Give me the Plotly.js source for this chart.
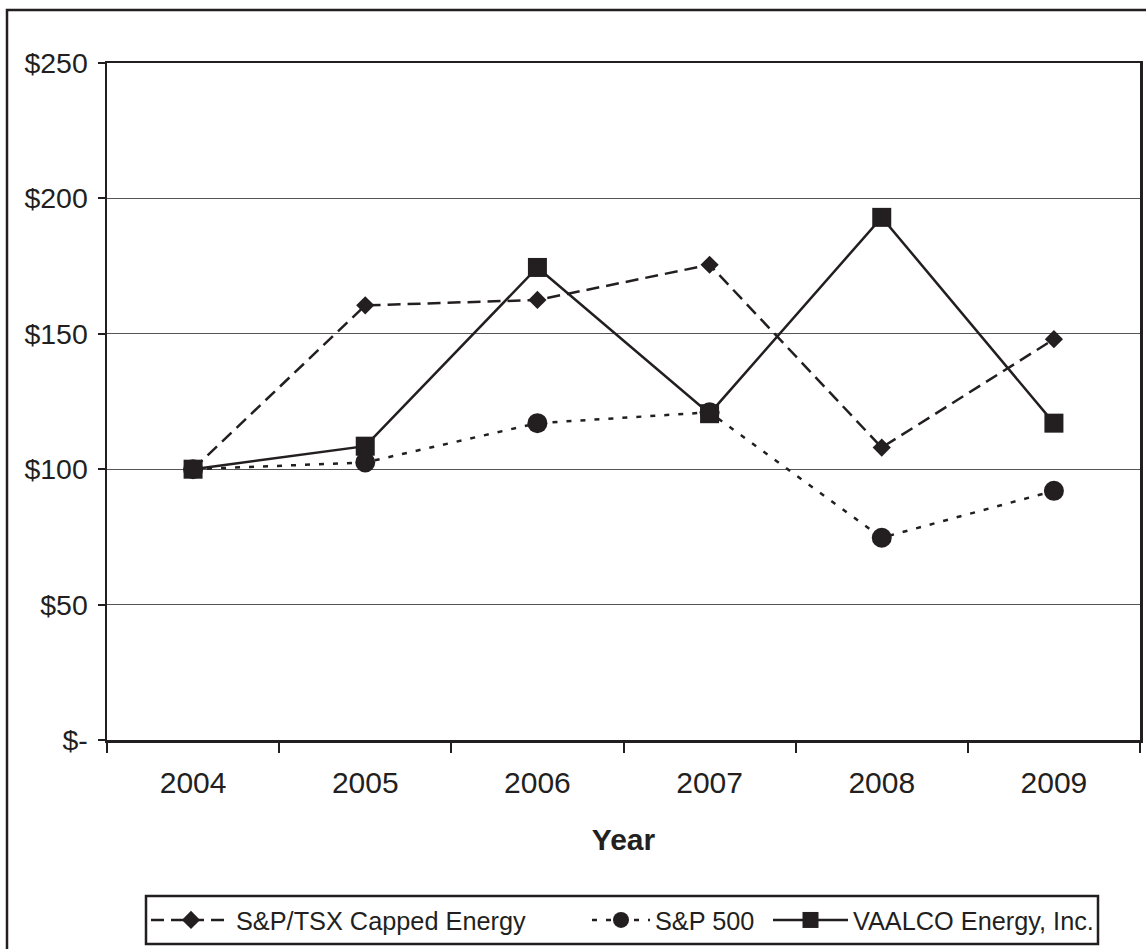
<!DOCTYPE html>
<html>
<head>
<meta charset="utf-8">
<script src="https://cdn.plot.ly/plotly-3.0.1.min.js"></script>
<style>html,body{margin:0;padding:0;background:#fff;}#chart{width:1146px;height:949px;}</style>
</head>
<body>
<div id="chart"></div>
<script>
const years = ['2004', '2005', '2006', '2007', '2008', '2009'];
const tsxEnergy = [100, 160.5, 162.5, 175.5, 108, 148];
const sp500 = [100, 102.5, 117, 121, 74.7, 92];
const vaalco = [100, 108.5, 174.5, 120.5, 193, 117];
const yTickVals = [0, 50, 100, 150, 200, 250];
const yTickText = ['$-', '$50', '$100', '$150', '$200', '$250'];

const ink = '#231f20';
const font = 'Liberation Sans, Arial, Helvetica, sans-serif';

const traces = [
  {
    x: years, y: tsxEnergy, name: 'S&P/TSX Capped Energy', type: 'scatter', mode: 'lines+markers',
    line: {color: ink, width: 2.5, dash: '13px,7px'},
    marker: {symbol: 'diamond', size: 14, color: ink},
    legend: 'legend'
  },
  {
    x: years, y: sp500, name: 'S&P 500', type: 'scatter', mode: 'lines+markers',
    line: {color: ink, width: 2.5, dash: '5px,9px'},
    marker: {symbol: 'circle', size: 20, color: ink},
    legend: 'legend2'
  },
  {
    x: years, y: vaalco, name: 'VAALCO Energy, Inc.', type: 'scatter', mode: 'lines+markers',
    line: {color: ink, width: 2.5},
    marker: {symbol: 'square', size: 19, color: ink},
    legend: 'legend3'
  }
];

const legendFont = {size: 25.3, color: ink, family: font};
const legendY = -0.2659;
function legendAt(x, itemw) {
  return {
    orientation: 'h', x: x, xanchor: 'left', y: legendY, yanchor: 'middle',
    borderwidth: 0, bgcolor: 'rgba(0,0,0,0)', font: legendFont, itemwidth: itemw
  };
}

const layout = {
  width: 1146, height: 949,
  margin: {l: 107, r: 6, t: 63, b: 209},
  paper_bgcolor: '#fff', plot_bgcolor: '#fff',
  font: {family: font, color: ink},
  showlegend: true,
  xaxis: {
    type: 'category', range: [-0.5, 5.5],
    tickson: 'boundaries', ticks: 'outside', ticklen: 10, tickwidth: 2, tickcolor: ink,
    showline: true, linecolor: ink, linewidth: 2.5, mirror: true,
    showgrid: false, zeroline: false,
    tickfont: {size: 30, color: ink, family: font},
    ticklabelstandoff: 14,
    title: {text: '<b>Year</b>', font: {size: 30, color: ink, family: font}, standoff: 32},
    automargin: false
  },
  yaxis: {
    range: [0, 250], tickvals: yTickVals, ticktext: yTickText,
    ticks: 'outside', ticklen: 7, tickwidth: 2, tickcolor: ink,
    showline: true, linecolor: ink, linewidth: 2.5, mirror: true,
    showgrid: true, gridcolor: '#555', gridwidth: 1.2, zeroline: false,
    tickfont: {size: 28.5, color: ink, family: font},
    ticklabelstandoff: 4,
    automargin: false
  },
  legend: legendAt((146 - 107) / 1033, 80),
  legend2: legendAt((587 - 107) / 1033, 58),
  legend3: legendAt((768 - 107) / 1033, 75),
  shapes: [
    {type: 'rect', xref: 'paper', yref: 'paper', x0: -0.0968, x1: 1.1, y0: -0.5, y1: 1.0783,
     line: {color: ink, width: 2.5}, fillcolor: 'rgba(0,0,0,0)', layer: 'below'},
    {type: 'rect', xref: 'paper', yref: 'paper', x0: (146 - 107) / 1033, x1: (1098 - 107) / 1033,
     y0: (740 - 944) / 677, y1: (740 - 896) / 677,
     line: {color: ink, width: 2.5}, fillcolor: 'rgba(0,0,0,0)', layer: 'below'}
  ]
};

Plotly.newPlot('chart', traces, layout, {displayModeBar: false, staticPlot: true});
</script>
</body>
</html>
